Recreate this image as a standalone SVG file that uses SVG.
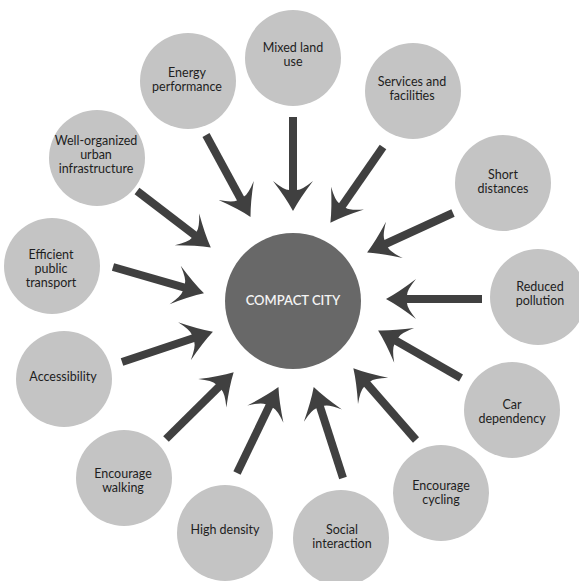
<svg xmlns="http://www.w3.org/2000/svg" width="579" height="581" viewBox="0 0 579 581">
<defs>
<style>
.n{fill:#c4c4c4}
.c{fill:#686868}
.t{font-family:Lato,"Liberation Sans",sans-serif;font-size:12.5px;fill:#1e1e1e;text-anchor:middle}
.ct{font-family:Lato,"Liberation Sans",sans-serif;font-size:13px;font-weight:600;fill:#f4f4f4;text-anchor:middle}
.a{stroke:#404040;stroke-width:8;fill:none;marker-end:url(#h)}
</style>
<marker id="h" markerUnits="userSpaceOnUse" viewBox="-22 -24 38 48" refX="0" refY="0" markerWidth="38" markerHeight="48" orient="auto" overflow="visible">
<path d="M13,0 Q0,-7 -17,-20 Q-8,-9 -8,-4 L-8,4 Q-8,9 -17,20 Q0,7 13,0 Z" fill="#404040"/>
</marker>
</defs>
<rect width="579" height="581" fill="#ffffff"/>
<g id="connectors">
<line class="a" x1="293" y1="117" x2="293" y2="198"/>
<line class="a" x1="206" y1="135" x2="244.3" y2="205.5"/>
<line class="a" x1="383" y1="147" x2="337.8" y2="212.1"/>
<line class="a" x1="137" y1="191" x2="200.5" y2="239.7"/>
<line class="a" x1="113" y1="267" x2="191.5" y2="289.7"/>
<line class="a" x1="122" y1="362" x2="200.6" y2="335.8"/>
<line class="a" x1="166" y1="439" x2="224.4" y2="381.4"/>
<line class="a" x1="237" y1="473" x2="272.8" y2="398.8"/>
<line class="a" x1="343" y1="478" x2="317.7" y2="399.4"/>
<line class="a" x1="416" y1="440" x2="361.9" y2="378"/>
<line class="a" x1="461" y1="378" x2="389.4" y2="337"/>
<line class="a" x1="482" y1="299" x2="399" y2="299"/>
<line class="a" x1="453" y1="213" x2="378.9" y2="247"/>
</g>
<g id="center">
<circle class="c" cx="293" cy="301" r="68"/>
<text class="ct" x="293" y="305">COMPACT CITY</text>
</g>
<g id="mixed">
<circle class="n" cx="293" cy="58" r="48"/>
<text class="t" x="293" y="52">Mixed land</text>
<text class="t" x="293" y="66">use</text>
</g>
<g id="energy">
<circle class="n" cx="188" cy="81" r="48"/>
<text class="t" x="187" y="77">Energy</text>
<text class="t" x="187" y="91">performance</text>
</g>
<g id="services">
<circle class="n" cx="413" cy="91" r="48"/>
<text class="t" x="412" y="86">Services and</text>
<text class="t" x="412" y="100">facilities</text>
</g>
<g id="wellorganized">
<circle class="n" cx="97" cy="158" r="48"/>
<text class="t" x="96" y="145">Well-organized</text>
<text class="t" x="96" y="159">urban</text>
<text class="t" x="96" y="173">infrastructure</text>
</g>
<g id="efficient">
<circle class="n" cx="52" cy="266" r="48"/>
<text class="t" x="51" y="259">Efficient</text>
<text class="t" x="51" y="273">public</text>
<text class="t" x="51" y="287">transport</text>
</g>
<g id="accessibility">
<circle class="n" cx="64" cy="379" r="48"/>
<text class="t" x="63" y="381">Accessibility</text>
</g>
<g id="walking">
<circle class="n" cx="124" cy="478" r="48"/>
<text class="t" x="123" y="478">Encourage</text>
<text class="t" x="123" y="492">walking</text>
</g>
<g id="density">
<circle class="n" cx="225" cy="533" r="48"/>
<text class="t" x="225" y="534">High density</text>
</g>
<g id="social">
<circle class="n" cx="341" cy="538" r="48"/>
<text class="t" x="342" y="534">Social</text>
<text class="t" x="342" y="548">interaction</text>
</g>
<g id="cycling">
<circle class="n" cx="441" cy="493" r="48"/>
<text class="t" x="441" y="490">Encourage</text>
<text class="t" x="441" y="504">cycling</text>
</g>
<g id="car">
<circle class="n" cx="512" cy="410" r="48"/>
<text class="t" x="512" y="409">Car</text>
<text class="t" x="512" y="423">dependency</text>
</g>
<g id="pollution">
<circle class="n" cx="538" cy="297" r="48"/>
<text class="t" x="540" y="291">Reduced</text>
<text class="t" x="540" y="305">pollution</text>
</g>
<g id="short">
<circle class="n" cx="503" cy="183" r="48"/>
<text class="t" x="503" y="179">Short</text>
<text class="t" x="503" y="193">distances</text>
</g>
</svg>
